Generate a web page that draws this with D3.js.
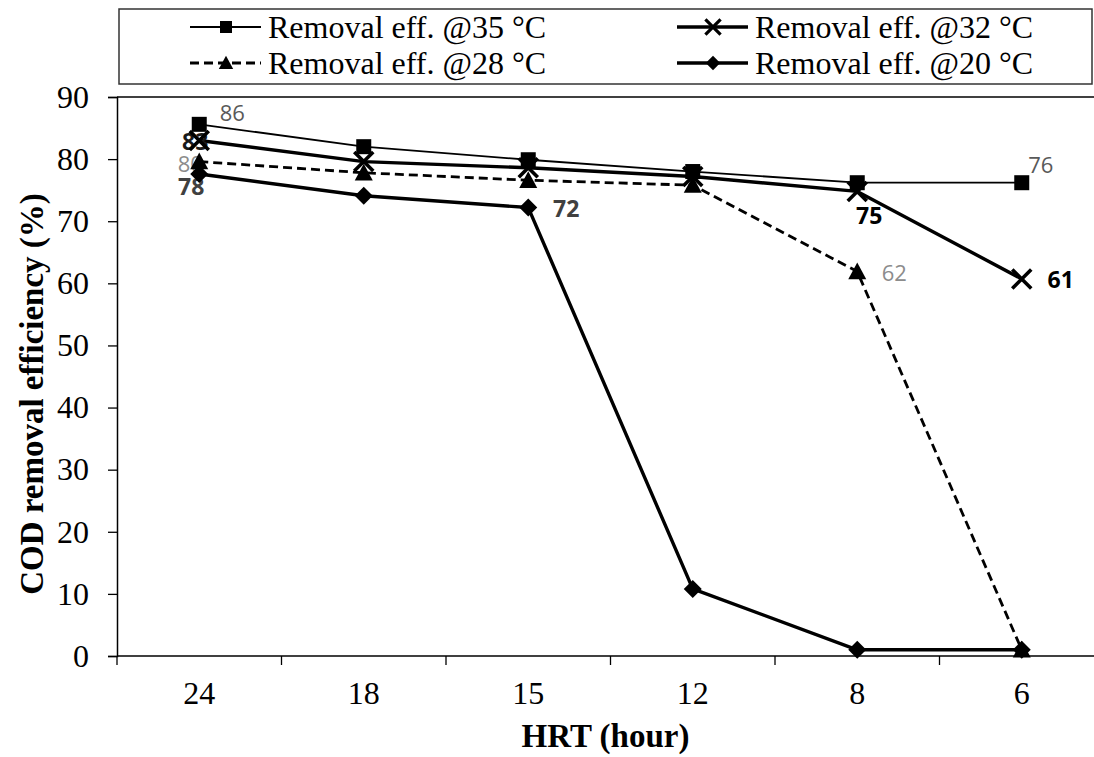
<!DOCTYPE html>
<html>
<head>
<meta charset="utf-8">
<script src="https://d3js.org/d3.v7.min.js"></script>
<style>
body { margin: 0; background: #fff; }
svg { display: block; }
</style>
</head>
<body>
<svg class="canvas"></svg>
<script>
var hrt = ["24", "18", "15", "12", "8", "6"];
var seriesNames = ["Removal eff. @35 °C", "Removal eff. @32 °C", "Removal eff. @28 °C", "Removal eff. @20 °C"];
var eff35 = [85.6, 82.0, 79.9, 78.0, 76.2, 76.2];
var eff32 = [83.0, 79.6, 78.6, 77.2, 74.8, 60.7];
var eff28 = [79.6, 77.8, 76.6, 75.8, 61.9, 1.0];
var eff20 = [77.6, 74.1, 72.2, 10.8, 1.0, 1.0];
var yTicks = [0, 10, 20, 30, 40, 50, 60, 70, 80, 90];

// data labels shown on the chart: [series index, point index, text]
var pointLabels = [
	[0, 0, "86"], [0, 5, "76"],
	[1, 0, "83"], [1, 4, "75"], [1, 5, "61"],
	[2, 0, "80"], [2, 4, "62"],
	[3, 0, "78"], [3, 2, "72"]
];

var width = 1094,
	height = 757;

var X0 = 117, X1 = 1104, Y0 = 656, Y1 = 97;
var SERIF = "Liberation Serif, Times New Roman, serif";

var canvas = d3.select(".canvas")
	.attr("width", width)
	.attr("height", height);

var allSeries = [eff35, eff32, eff28, eff20];

var styles = [
	{ w: 1.8, dash: null, marker: "square" },
	{ w: 3.4, dash: null, marker: "cross" },
	{ w: 2.8, dash: "9,5", marker: "triangle" },
	{ w: 3.4, dash: null, marker: "diamond" }
];

var labelStyles = [
	[{ dx: 33, dy: -11, fill: "#595959", bold: false }, { dx: 19, dy: -18, fill: "#595959", bold: false }],
	[{ dx: -4, dy: 1, fill: "#1a1a1a", bold: true }, { dx: 12, dy: 24, fill: "#000", bold: true }, { dx: 39, dy: 1, fill: "#000", bold: true }],
	[{ dx: -9, dy: 2, fill: "#8c8c8c", bold: false }, { dx: 37, dy: 2, fill: "#8c8c8c", bold: false }],
	[{ dx: -8, dy: 13, fill: "#404040", bold: true }, { dx: 38, dy: 1, fill: "#404040", bold: true }]
];

var x = d3.scalePoint().domain(hrt).range([X0, X1]).padding(0.5);
var y = d3.scaleLinear().domain([0, 90]).range([Y0, Y1]);

// plot frame top
canvas.append("line")
	.attr("x1", X0).attr("x2", X1)
	.attr("y1", Y1).attr("y2", Y1)
	.attr("stroke", "#000").attr("stroke-width", 1.3);

// y axis
var yAxis = canvas.append("g")
	.attr("transform", "translate(" + X0 + ",0)")
	.call(d3.axisLeft(y).tickValues(yTicks).tickSize(9).tickPadding(19));
yAxis.select(".domain").attr("stroke-width", 1.5);
yAxis.selectAll(".tick line").attr("stroke-width", 1.3);
yAxis.selectAll("text")
	.attr("font-family", SERIF)
	.attr("font-size", 32)
	.attr("fill", "#000");

// x axis: ticks between categories
var xAxis = canvas.append("g")
	.attr("transform", "translate(0," + Y0 + ")");
xAxis.append("line")
	.attr("x1", X0).attr("x2", X1)
	.attr("stroke", "#000").attr("stroke-width", 1.5);
var step = x.step();
xAxis.selectAll(".xt").data(d3.range(hrt.length + 1))
	.enter().append("line")
	.attr("class", "xt")
	.attr("x1", function(d) { return X0 + d * step; })
	.attr("x2", function(d) { return X0 + d * step; })
	.attr("y1", 0).attr("y2", 9)
	.attr("stroke", "#000").attr("stroke-width", 1.3);
xAxis.selectAll(".xl").data(hrt)
	.enter().append("text")
	.attr("class", "xl")
	.attr("x", function(d) { return x(d); })
	.attr("y", 48)
	.attr("text-anchor", "middle")
	.attr("font-family", SERIF)
	.attr("font-size", 32)
	.text(function(d) { return d; });

// axis titles
canvas.append("text")
	.attr("x", (X0 + X1) / 2 - 5)
	.attr("y", 747)
	.attr("text-anchor", "middle")
	.attr("font-family", SERIF)
	.attr("font-weight", "bold")
	.attr("font-size", 33)
	.text("HRT (hour)");

canvas.append("text")
	.attr("transform", "translate(43," + 394 + ") rotate(-90)")
	.attr("text-anchor", "middle")
	.attr("font-family", SERIF)
	.attr("font-weight", "bold")
	.attr("font-size", 33)
	.text("COD removal efficiency (%)");

// marker drawing
function drawMarker(g, type, cx, cy, scale) {
	var s = scale || 1;
	if (type == "square") {
		g.append("rect")
			.attr("x", cx - 7.5 * s).attr("y", cy - 7.5 * s)
			.attr("width", 15 * s).attr("height", 15 * s)
			.attr("fill", "#000");
	} else if (type == "cross") {
		var r = 9.5 * s;
		g.append("path")
			.attr("d", "M" + (cx - r) + "," + (cy - r) + "L" + (cx + r) + "," + (cy + r) +
				"M" + (cx - r) + "," + (cy + r) + "L" + (cx + r) + "," + (cy - r))
			.attr("stroke", "#000").attr("stroke-width", 3.6 * Math.max(s, 0.9)).attr("fill", "none");
	} else if (type == "triangle") {
		var h = 9 * s;
		g.append("path")
			.attr("d", "M" + cx + "," + (cy - h) + "L" + (cx + h) + "," + (cy + h * 0.85) +
				"L" + (cx - h) + "," + (cy + h * 0.85) + "Z")
			.attr("fill", "#000");
	} else {
		var d = 9 * s;
		g.append("path")
			.attr("d", "M" + cx + "," + (cy - d) + "L" + (cx + d) + "," + cy +
				"L" + cx + "," + (cy + d) + "L" + (cx - d) + "," + cy + "Z")
			.attr("fill", "#000");
	}
}

var line = d3.line()
	.x(function(d, i) { return x(hrt[i]); })
	.y(function(d) { return y(d); });

// series lines
canvas.selectAll(".series").data(allSeries)
	.enter().append("path")
	.attr("class", "series")
	.attr("d", function(d) { return line(d); })
	.attr("fill", "none")
	.attr("stroke", "#000")
	.attr("stroke-width", function(d, i) { return styles[i].w; })
	.attr("stroke-dasharray", function(d, i) { return styles[i].dash; })
	.attr("stroke-linejoin", "round");

// data labels (under the markers)
var counts = [0, 0, 0, 0];
pointLabels.forEach(function(p) {
	var st = labelStyles[p[0]][counts[p[0]]++];
	canvas.append("text")
		.attr("x", x(hrt[p[1]]) + st.dx)
		.attr("y", y(allSeries[p[0]][p[1]]) + st.dy)
		.attr("dy", "0.36em")
		.attr("text-anchor", "middle")
		.attr("font-family", "Open Sans, sans-serif")
		.attr("font-size", st.bold ? 23 : 22)
		.attr("font-weight", st.bold ? "bold" : "normal")
		.attr("fill", st.fill)
		.text(p[2]);
});

// markers
var markerG = canvas.append("g");
allSeries.forEach(function(vals, si) {
	vals.forEach(function(v, i) {
		drawMarker(markerG, styles[si].marker, x(hrt[i]), y(v));
	});
});

// legend
var legend = canvas.append("g");
legend.append("rect")
	.attr("x", 119).attr("y", 9)
	.attr("width", 973).attr("height", 75)
	.attr("fill", "#fff")
	.attr("stroke", "#333").attr("stroke-width", 1.5);

var legX = [190, 677, 190, 677];
var legY = [27, 27, 63, 63];
var legOrder = [0, 1, 2, 3];

legOrder.forEach(function(si, k) {
	var lx = legX[k], ly = legY[k];
	legend.append("line")
		.attr("x1", lx).attr("x2", lx + 71)
		.attr("y1", ly).attr("y2", ly)
		.attr("stroke", "#000")
		.attr("stroke-width", styles[si].w)
		.attr("stroke-dasharray", styles[si].dash);
	drawMarker(legend, styles[si].marker, lx + 36, ly, 0.8);
	legend.append("text")
		.attr("x", lx + 78)
		.attr("y", ly)
		.attr("dy", "0.35em")
		.attr("font-family", SERIF)
		.attr("font-size", 32)
		.text(seriesNames[si]);
});
</script>
</body>
</html>
